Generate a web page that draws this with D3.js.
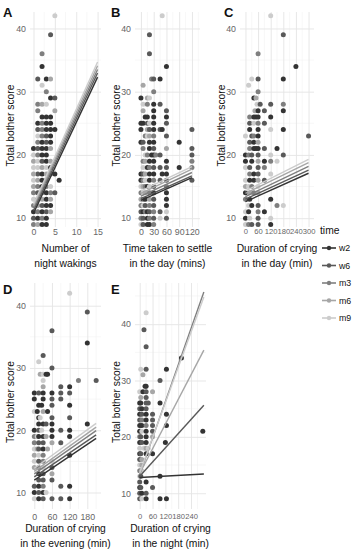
<!DOCTYPE html>
<html>
<head>
<meta charset="utf-8">
<script src="https://cdn.jsdelivr.net/npm/d3@7"></script>
<style>
  body { margin: 0; background: #fff; }
  text { font-family: "Liberation Sans", Arial, sans-serif; }
</style>
</head>
<body>
<div id="chart"></div>
<script>
// time points, in legend order, with their grey shades
const TIMES = ["w2", "w6", "m3", "m6", "m9"];
const GREYS = ["#333333", "#595959", "#7f7f7f", "#a6a6a6", "#cccccc"];
const Y_TICKS = [10, 20, 30, 40];

// ---- A: number of night wakings [x, score, time] ----
const nightWakings = [
  [5,42,"m9"],[4,39,"w6"],[2,36,"m3"],[2,34,"w2"],[1,32,"w6"],[3,32,"w2"],[4,32,"m6"],[2,31,"m9"],
  [3,30,"m3"],[4,29,"w2"],[5,29,"w6"],[1,28,"m3"],[2,28,"m6"],[3,28,"m9"],[1,27,"m3"],[5,27,"m6"],
  [2,26,"w2"],[3,26,"w2"],[4,26,"w2"],[1,25,"w2"],[2,25,"m3"],[3,25,"w2"],[4,25,"w2"],
  [1,24,"w6"],[2,24,"m3"],[3,24,"w2"],[4,24,"w2"],[5,24,"w2"],[1,23,"m9"],[2,23,"m3"],[3,23,"w6"],[4,23,"w2"],
  [1,22,"m3"],[2,22,"w2"],[3,22,"w6"],[4,22,"w2"],[0,21,"w2"],[1,21,"w6"],[2,21,"w2"],[3,21,"w2"],[4,21,"m6"],
  [0,20,"m9"],[1,20,"m3"],[2,20,"w2"],[3,20,"w2"],[0,19,"m6"],[1,19,"m9"],[2,19,"w6"],[3,19,"w2"],[4,19,"m6"],
  [1,18,"m9"],[2,18,"m6"],[3,18,"m9"],[4,18,"w2"],[0,18,"m9"],[1,17,"w6"],[2,17,"w2"],[3,17,"m6"],[4,17,"m3"],[5,17,"w2"],
  [0,17,"m6"],[0,16,"m9"],[1,16,"m6"],[2,16,"w2"],[3,16,"w6"],[6,16,"w2"],[0,15,"m6"],[1,15,"m3"],[2,15,"w2"],[3,15,"m3"],[4,15,"m9"],
  [0,14,"m3"],[1,14,"w6"],[2,14,"m3"],[3,14,"w2"],[4,14,"m3"],[5,14,"w6"],[0,13,"m9"],[1,13,"m3"],[2,13,"m6"],[3,13,"w2"],[4,13,"m6"],
  [0,12,"m3"],[1,12,"m6"],[2,12,"w6"],[3,12,"w2"],[4,12,"w2"],[0,11,"w2"],[1,11,"m3"],[2,11,"w2"],[3,11,"w6"],[4,11,"m6"],
  [0,10,"w6"],[1,10,"w2"],[2,10,"m3"],[3,10,"w2"],[0,9,"m3"],[1,9,"m6"],[2,9,"w2"],[3,9,"w2"]
];
// [intercept, slope] per time, in TIMES order
const nightWakingsFit = [[10.8,1.433],[11.2,1.45],[11.6,1.46],[11.9,1.48],[12.2,1.5]];
const nightWakingsSpan = [0, 15];
const nightWakingsTicks = [0, 5, 10, 15];

// ---- B: time taken to settle in the day (mins) ----
const settleDay = [
  [50,42,"m9"],[20,39,"w6"],[20,36,"w6"],[60,34,"w2"],[25,32,"m3"],[30,32,"w6"],[45,32,"w2"],[5,31,"m6"],
  [30,30,"m3"],[0,29,"w2"],[15,29,"m6"],[20,29,"m9"],[5,28,"m9"],[15,28,"m3"],[30,28,"w2"],[45,28,"w6"],
  [5,27,"m6"],[30,27,"w2"],[60,27,"w6"],[10,26,"w2"],[15,26,"w2"],[30,26,"w2"],[60,26,"w2"],
  [0,25,"w2"],[5,25,"w2"],[15,25,"w6"],[20,25,"m9"],[30,25,"w2"],[60,25,"w6"],
  [0,24,"w2"],[15,24,"m6"],[20,24,"w6"],[30,24,"w2"],[45,24,"w6"],[50,24,"w2"],[120,24,"w6"],
  [10,23,"m3"],[15,23,"m9"],[20,23,"m6"],[30,23,"m3"],[60,23,"w6"],[0,22,"w2"],[5,22,"w6"],[20,22,"w2"],[30,22,"w2"],[90,22,"w2"],
  [5,21,"m3"],[20,21,"w2"],[30,21,"w6"],[60,21,"m6"],[120,21,"w6"],
  [10,20,"m9"],[15,20,"m3"],[25,20,"w2"],[30,20,"w2"],[35,20,"m3"],[45,20,"w6"],[120,20,"w6"],
  [5,19,"m3"],[10,19,"m6"],[20,19,"w2"],[30,19,"w2"],[60,19,"w2"],[120,19,"m3"],
  [5,18,"m9"],[15,18,"w2"],[20,18,"m3"],[30,18,"w6"],[45,18,"w6"],[60,18,"w6"],[90,18,"w2"],[120,18,"m3"],
  [0,17,"w2"],[5,17,"w6"],[10,17,"m6"],[20,17,"w2"],[30,17,"w2"],[50,17,"w2"],[60,17,"w2"],
  [0,16,"w2"],[5,16,"m3"],[10,16,"m9"],[20,16,"w2"],[30,16,"m3"],[45,16,"w6"],[60,16,"w6"],[120,16,"w6"],
  [0,15,"m9"],[5,15,"m6"],[10,15,"m3"],[15,15,"w2"],[20,15,"m9"],[30,15,"w6"],[60,15,"m3"],
  [0,14,"m3"],[5,14,"m9"],[10,14,"m6"],[20,14,"m3"],[30,14,"w2"],[60,14,"w2"],
  [0,13,"m6"],[5,13,"m3"],[10,13,"w2"],[20,13,"m6"],[30,13,"w6"],[60,13,"w2"],
  [0,12,"m3"],[5,12,"m9"],[10,12,"w6"],[20,12,"m3"],[30,12,"w6"],[60,12,"w2"],
  [0,11,"w6"],[5,11,"w2"],[10,11,"m3"],[15,11,"w2"],[20,11,"w6"],[30,11,"m3"],[45,11,"w6"],[60,11,"m9"],
  [0,10,"m3"],[5,10,"w6"],[15,10,"w2"],[20,10,"m3"],[30,10,"w6"],[45,10,"m9"],[60,10,"w6"],
  [0,9,"m9"],[5,9,"w6"],[15,9,"w2"],[20,9,"w2"],[30,9,"m3"]
];
const settleDayFit = [[12.8,0.030],[13.1,0.030],[13.5,0.031],[13.9,0.032],[14.3,0.032]];
const settleDaySpan = [0, 120];
const settleDayTicks = [0, 30, 60, 90, 120];

// ---- C: duration of crying in the day (min) ----
const cryDay = [
  [120,42,"m9"],[180,39,"w6"],[60,36,"m3"],[240,34,"w2"],[30,32,"m9"],[60,32,"w6"],[180,32,"w2"],[15,31,"m9"],
  [60,30,"m3"],[40,29,"w2"],[50,29,"m6"],[55,28,"m9"],[70,28,"w6"],[120,28,"w6"],[180,28,"m3"],
  [45,27,"m6"],[60,27,"w2"],[90,27,"w6"],[180,27,"w2"],[20,26,"m3"],[40,26,"w2"],[50,26,"w2"],[60,26,"w2"],[120,26,"w2"],
  [20,25,"w6"],[40,25,"m9"],[60,25,"m3"],[90,25,"w6"],[20,24,"w2"],[60,24,"w2"],[120,24,"m9"],[180,24,"w2"],
  [0,23,"m9"],[30,23,"w6"],[40,23,"m3"],[60,23,"w2"],[300,23,"w6"],[20,22,"w6"],[40,22,"w2"],[60,22,"m6"],
  [20,21,"m3"],[40,21,"w2"],[50,21,"w2"],[60,21,"w2"],[90,21,"w6"],[150,21,"w2"],
  [0,20,"w2"],[15,20,"m3"],[30,20,"w6"],[60,20,"w6"],[120,20,"m9"],[180,20,"w6"],
  [0,19,"w2"],[30,19,"w2"],[60,19,"m6"],[90,19,"w2"],[120,19,"m3"],[150,19,"m9"],
  [0,18,"m9"],[20,18,"w6"],[60,18,"w6"],[90,18,"m3"],[20,17,"m3"],[40,17,"w2"],[60,17,"w6"],[120,17,"m9"],
  [0,16,"m9"],[20,16,"w2"],[40,16,"w2"],[60,16,"m6"],[90,16,"w6"],[0,15,"m6"],[15,15,"m9"],[30,15,"m3"],[60,15,"m9"],
  [0,14,"w2"],[20,14,"m6"],[40,14,"m3"],[60,14,"m6"],[0,13,"m3"],[20,13,"w2"],[120,13,"w2"],
  [15,12,"m9"],[30,12,"w2"],[60,12,"w6"],[150,12,"m3"],[180,12,"m9"],[0,11,"m9"],[15,11,"w2"],[60,11,"m3"],[90,11,"w2"],
  [0,10,"w2"],[20,10,"m9"],[60,10,"w6"],[120,10,"m9"],[0,9,"m9"],[15,9,"m3"],[30,9,"w6"],[60,9,"w6"],[120,9,"w2"]
];
const cryDayFit = [[12.6,0.0150],[13.0,0.0153],[13.4,0.0160],[13.9,0.0163],[14.3,0.0167]];
const cryDaySpan = [0, 300];
const cryDayTicks = [0, 60, 120, 180, 240, 300];

// ---- D: duration of crying in the evening (min) ----
const cryEvening = [
  [120,42,"m9"],[180,39,"w6"],[60,36,"w6"],[180,34,"w2"],[30,32,"w6"],[15,31,"m9"],[60,30,"w6"],
  [20,29,"m6"],[30,29,"m9"],[40,29,"w2"],[45,29,"w2"],[30,28,"m9"],[150,28,"m3"],[210,28,"w6"],
  [30,27,"m6"],[90,27,"w6"],[120,27,"w2"],[0,26,"w2"],[15,26,"w6"],[30,26,"w2"],[60,26,"w2"],[90,26,"w6"],[120,26,"w6"],
  [0,25,"w2"],[30,25,"w2"],[60,25,"w6"],[90,25,"w6"],[15,24,"w2"],[25,24,"w2"],[60,24,"w6"],[120,24,"w2"],
  [0,23,"m9"],[10,23,"w2"],[30,23,"m6"],[45,23,"w2"],[15,22,"w2"],[20,22,"m9"],[60,22,"w6"],[120,22,"w6"],
  [15,21,"w2"],[30,21,"w2"],[40,21,"w6"],[60,21,"w2"],[180,21,"w2"],
  [0,20,"w2"],[15,20,"w6"],[25,20,"m9"],[60,20,"w2"],[90,20,"w6"],[120,20,"w2"],
  [0,19,"m3"],[10,19,"m9"],[15,19,"w2"],[30,19,"w2"],[40,19,"m6"],[60,19,"w2"],[120,19,"w2"],
  [0,18,"m3"],[15,18,"w6"],[30,18,"w6"],[60,18,"m6"],[90,18,"w6"],[0,17,"m9"],[10,17,"m6"],[15,17,"w6"],[30,17,"w2"],[45,17,"m6"],
  [0,16,"m6"],[15,16,"m9"],[30,16,"m3"],[120,16,"w2"],[0,15,"m9"],[15,15,"w6"],[30,15,"m3"],[60,15,"m9"],
  [0,14,"m6"],[15,14,"m3"],[30,14,"m9"],[60,14,"w6"],[15,13,"w2"],[30,13,"w6"],[60,13,"m6"],
  [15,12,"w6"],[30,12,"w6"],[60,12,"w6"],[0,11,"w6"],[15,11,"w2"],[30,11,"m3"],[90,11,"w6"],[120,11,"w2"],
  [0,10,"w2"],[15,10,"w6"],[30,10,"w2"],[40,10,"m9"],[0,9,"m9"],[15,9,"w2"],[30,9,"w6"],[60,9,"w6"],[90,9,"w6"],[120,9,"w2"]
];
const cryEveningFit = [[12.0,0.0319],[12.5,0.0322],[13.0,0.0330],[13.4,0.0338],[13.9,0.0343]];
const cryEveningSpan = [0, 210];
const cryEveningTicks = [0, 60, 120, 180];

// ---- E: duration of crying in the night (min) ----
const cryNight = [
  [30,42,"m9"],[20,39,"w6"],[30,36,"w6"],[195,34,"w2"],[5,32,"m9"],[30,32,"w6"],[125,32,"w2"],[15,31,"m6"],
  [95,30,"w6"],[25,29,"w2"],[30,29,"w2"],[0,28,"m9"],[15,28,"w2"],[30,28,"w6"],[60,28,"m6"],[5,27,"m6"],[30,27,"w6"],
  [0,26,"w2"],[5,26,"w2"],[30,26,"w6"],[40,26,"w6"],[95,26,"w2"],[0,25,"w6"],[10,25,"w2"],[30,25,"w6"],
  [0,24,"w2"],[10,24,"w6"],[30,24,"w2"],[60,24,"w6"],[125,24,"w2"],[0,23,"w6"],[10,23,"m3"],[30,23,"w2"],[60,23,"w6"],
  [0,22,"w2"],[10,22,"w2"],[30,22,"m3"],[60,22,"w6"],[125,22,"w2"],[0,21,"w2"],[10,21,"m9"],[30,21,"w2"],[60,21,"w6"],[295,21,"w2"],
  [0,20,"m3"],[5,20,"w6"],[30,20,"w2"],[60,20,"m6"],[0,19,"w2"],[10,19,"w6"],[30,19,"w2"],[120,19,"w2"],
  [0,18,"m9"],[20,18,"m9"],[30,18,"m6"],[40,18,"m9"],[0,17,"w2"],[5,17,"w6"],[30,17,"w2"],[60,17,"w2"],
  [0,16,"w6"],[10,16,"m6"],[0,15,"m9"],[10,15,"m6"],[0,14,"m3"],[10,14,"m9"],[0,13,"m9"],[5,13,"w6"],[95,13,"w2"],
  [0,12,"w6"],[30,12,"w2"],[0,11,"w2"],[5,11,"w6"],[60,11,"w6"],[0,10,"w6"],[10,10,"w2"],[30,10,"w6"],
  [0,9,"w6"],[10,9,"m9"],[30,9,"w2"],[95,9,"w2"],[125,9,"w2"]
];
const cryNightFit = [[12.8,0.002],[13.0,0.042],[13.3,0.108],[13.5,0.073],[13.6,0.104]];
const cryNightSpan = [0, 300];
const cryNightTicks = [0, 60, 120, 180, 240];

// ---- layout (pixel boxes for each facet) ----
const panels = [
  { letter: "A", lx: 3, ly: 17, data: nightWakings, fit: nightWakingsFit, span: nightWakingsSpan,
    ticks: nightWakingsTicks, minor: [2.5, 7.5, 12.5], xd: [-0.82, 15.8], box: [30, 101, 12, 227],
    yd: [8.6, 42.6], yMinor: [15, 25, 35], title: ["Number of", "night wakings"], ytx: 10, tickGap: 2, titleY: [252, 267], tickFont: 8.8 },
  { letter: "B", lx: 111, ly: 17, data: settleDay, fit: settleDayFit, span: settleDaySpan,
    ticks: settleDayTicks, minor: [15, 45, 75, 105, 135], xd: [-14, 139], box: [135, 200, 12, 227],
    yd: [8.6, 42.6], yMinor: [15, 25, 35], title: ["Time taken to settle", "in the day (mins)"], ytx: 116, tickGap: 2, titleY: [252, 267], tickFont: 8.8 },
  { letter: "C", lx: 224, ly: 17, data: cryDay, fit: cryDayFit, span: cryDaySpan,
    ticks: cryDayTicks, minor: [30, 90, 150, 210, 270], xd: [-26, 326], box: [240, 314, 12, 227],
    yd: [8.6, 42.6], yMinor: [15, 25, 35], title: ["Duration of crying", "in the day (min)"], ytx: 221, tickGap: 2, titleY: [252, 267], tickFont: 7.6 },
  { letter: "D", lx: 3, ly: 294, data: cryEvening, fit: cryEveningFit, span: cryEveningSpan,
    ticks: cryEveningTicks, minor: [30, 90, 150, 210], xd: [-14.6, 226.5], box: [30, 101, 283, 509],
    yd: [7.35, 43.65], yMinor: [15, 25, 35], title: ["Duration of crying", "in the evening (min)"], ytx: 10, tickGap: 5, titleY: [532, 547], tickFont: 8.8 },
  { letter: "E", lx: 111, ly: 294, data: cryNight, fit: cryNightFit, span: cryNightSpan,
    ticks: cryNightTicks, minor: [30, 90, 150, 210, 270], xd: [-22, 310], box: [135, 206, 283, 509],
    yd: [7.2, 47.3], yMinor: [15, 25, 35, 45], title: ["Duration of crying", "in the night (min)"], ytx: 116, tickGap: 5, titleY: [532, 547], tickFont: 7.6 }
];

const svg = d3.select("#chart").append("svg")
  .attr("width", 361).attr("height", 550);

const colour = d3.scaleOrdinal().domain(TIMES).range(GREYS);

panels.forEach(p => {
  const [x0, x1, y0, y1] = p.box;
  const x = d3.scaleLinear().domain(p.xd).range([x0, x1]);
  const y = d3.scaleLinear().domain(p.yd).range([y1, y0]);
  const g = svg.append("g");

  // grid: minor first, then major
  const grid = g.append("g");
  grid.selectAll(".vminor").data(p.minor.filter(v => v >= p.xd[0] && v <= p.xd[1])).join("line")
    .attr("x1", d => x(d)).attr("x2", d => x(d)).attr("y1", y0).attr("y2", y1)
    .attr("stroke", "#f1f1f1").attr("stroke-width", 0.6);
  grid.selectAll(".hminor").data(p.yMinor.filter(v => v >= p.yd[0] && v <= p.yd[1])).join("line")
    .attr("y1", d => y(d)).attr("y2", d => y(d)).attr("x1", x0).attr("x2", x1)
    .attr("stroke", "#f1f1f1").attr("stroke-width", 0.6);
  g.append("g").attr("transform", `translate(0,${y1})`)
    .call(d3.axisBottom(x).tickValues(p.ticks).tickSize(-(y1 - y0)).tickFormat(""))
    .call(a => a.select(".domain").remove())
    .call(a => a.selectAll("line").attr("stroke", "#e4e4e4").attr("stroke-width", 0.9));
  g.append("g").attr("transform", `translate(${x0},0)`)
    .call(d3.axisLeft(y).tickValues(Y_TICKS).tickSize(-(x1 - x0)).tickFormat(""))
    .call(a => a.select(".domain").remove())
    .call(a => a.selectAll("line").attr("stroke", "#e4e4e4").attr("stroke-width", 0.9));

  // tick labels
  g.append("g").attr("transform", `translate(0,${y1})`)
    .call(d3.axisBottom(x).tickValues(p.ticks).tickSize(0).tickPadding(p.tickGap))
    .call(a => a.select(".domain").remove())
    .call(a => a.selectAll("text").attr("fill", "#666").attr("font-size", p.tickFont)
      .attr("font-family", '"Liberation Sans", Arial, sans-serif'));
  g.append("g").attr("transform", `translate(${x0},0)`)
    .call(d3.axisLeft(y).tickValues(Y_TICKS).tickSize(0).tickPadding(4))
    .call(a => a.select(".domain").remove())
    .call(a => a.selectAll("text").attr("fill", "#666").attr("font-size", 8.8)
      .attr("font-family", '"Liberation Sans", Arial, sans-serif'));

  // points
  g.append("g").selectAll("circle").data(p.data).join("circle")
    .attr("cx", d => x(d[0])).attr("cy", d => y(d[1])).attr("r", 2.5)
    .attr("fill", d => colour(d[2]));

  // fitted lines, one per time point
  const line = d3.line().x(d => x(d[0])).y(d => y(d[1]));
  g.append("g").selectAll("path").data(p.fit).join("path")
    .attr("d", f => line(p.span.map(v => [v, f[0] + f[1] * v])))
    .attr("fill", "none")
    .attr("stroke", (f, i) => GREYS[i])
    .attr("stroke-width", 1.4);

  // axis titles
  g.selectAll(".xt").data(p.title).join("text")
    .attr("x", (x0 + x1) / 2).attr("y", (d, i) => p.titleY[i])
    .attr("text-anchor", "middle").attr("font-size", 10.3).attr("fill", "#111")
    .text(d => d);
  g.append("text")
    .attr("transform", `translate(${p.ytx + 3.5},${(y0 + y1) / 2 + 6}) rotate(-90)`)
    .attr("text-anchor", "middle").attr("font-size", 10.3).attr("fill", "#111")
    .text("Total bother score");

  // facet letter
  g.append("text").attr("x", p.lx).attr("y", p.ly)
    .attr("font-size", 13).attr("font-weight", "bold").attr("fill", "#111")
    .text(p.letter);
});

// legend
const legend = svg.append("g");
legend.append("text").attr("x", 320).attr("y", 234)
  .attr("font-size", 10.3).attr("fill", "#111").text("time");
const keyY = d3.scalePoint().domain(TIMES).range([248, 318]);
const key = legend.selectAll(".key").data(TIMES).join("g")
  .attr("transform", d => `translate(0,${keyY(d)})`);
key.append("line").attr("x1", 322).attr("x2", 336)
  .attr("stroke", d => colour(d)).attr("stroke-width", 1.6);
key.append("circle").attr("cx", 329).attr("r", 2.2).attr("fill", d => colour(d));
key.append("text").attr("x", 339).attr("y", 3).attr("font-size", 8.8)
  .attr("fill", "#111").text(d => d);
</script>
</body>
</html>
